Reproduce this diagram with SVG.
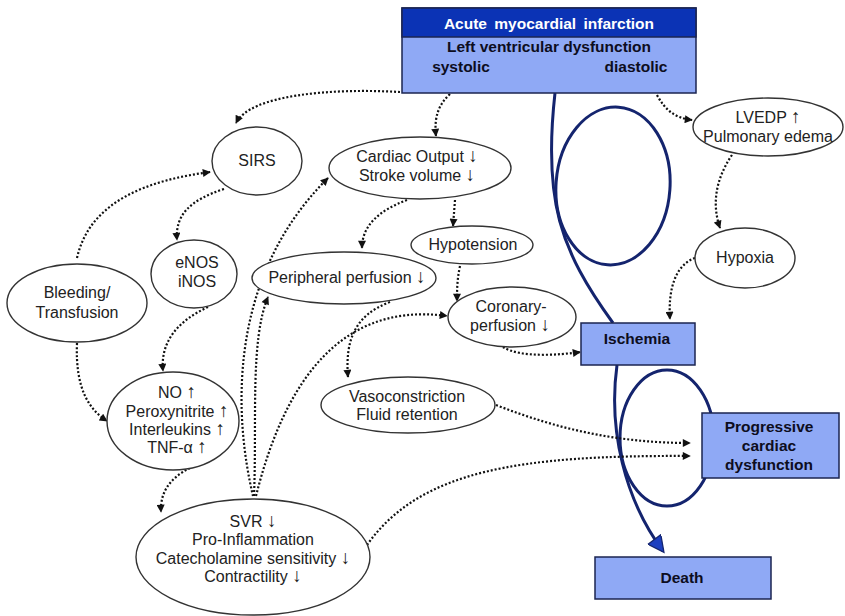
<svg xmlns="http://www.w3.org/2000/svg" width="845" height="616" viewBox="0 0 845 616">
<defs>
<style>
.e{fill:#fff;stroke:#333;stroke-width:1.4}
.t{font-family:"Liberation Sans",Arial,sans-serif;font-size:16px;fill:#222;text-anchor:middle}
.a{font-size:19px}
.b{fill:#8fa9f5;stroke:#1b2550;stroke-width:1.5}
.bt{font-family:"Liberation Sans",Arial,sans-serif;font-size:15.5px;font-weight:bold;fill:#0d0d20;text-anchor:middle}
.d{fill:none;stroke:#111;stroke-width:2.2;stroke-dasharray:2 2;marker-end:url(#ah)}
.bl{fill:none;stroke:#14246e;stroke-width:3}
</style>
<marker id="ah" viewBox="0 0 10 10" refX="9" refY="5" markerWidth="9" markerHeight="8" markerUnits="userSpaceOnUse" orient="auto"><path d="M0,0 L10,5 L0,10 z" fill="#111"/></marker>
<marker id="bah" viewBox="0 0 10 10" refX="9" refY="5" markerWidth="20" markerHeight="16" markerUnits="userSpaceOnUse" orient="auto"><path d="M0,0 L10,5 L0,10 z" fill="#1d3fc0" stroke="#14246e" stroke-width="0.8"/></marker>
</defs>
<rect width="845" height="616" fill="#fff"/>
<g id="connectors">
<path class="bl" d="M555,93 C543,200 560,250 613,323"/>
<ellipse class="bl" cx="613" cy="186" rx="57" ry="79" transform="rotate(4 613 186)"/>
<ellipse class="bl" cx="667" cy="438" rx="47" ry="68"/>
<path class="bl" d="M617,365 C608,430 625,500 663,551" marker-end="url(#bah)"/>
<path class="d" d="M400,92 C330,88 250,95 236,123"/>
<path class="d" d="M450,94 C438,105 434,118 436,136"/>
<path class="d" d="M657,95 C665,110 675,118 692,120"/>
<path class="d" d="M732,155 C715,180 712,205 720,228"/>
<path class="d" d="M695,258 C675,265 668,290 670,319"/>
<path class="d" d="M77,258 C90,200 150,180 210,172"/>
<path class="d" d="M224,189 C190,200 175,215 177,240"/>
<path class="d" d="M208,307 C180,320 160,340 163,371"/>
<path class="d" d="M77,343 C75,390 90,410 107,421"/>
<path class="d" d="M190,468 C170,478 160,492 161,512"/>
<path class="d" d="M253,496 C235,420 225,280 328,178"/>
<path class="d" d="M254,496 C257,420 250,340 268,297"/>
<path class="d" d="M256,496 C280,400 330,300 447,316"/>
<path class="d" d="M407,200 C380,210 362,225 362,248"/>
<path class="d" d="M455,200 L453,226"/>
<path class="d" d="M460,266 C457,280 457,290 457,301"/>
<path class="d" d="M390,302 C355,315 345,340 348,377"/>
<path class="d" d="M503,347 C520,358 560,355 580,352"/>
<path class="d" d="M496,405 C560,430 620,443 690,443"/>
<path class="d" d="M367,545 C420,470 520,455 690,456"/>
</g>
<g id="ami">
<rect x="402" y="8" width="294" height="85" fill="#8fa9f5" stroke="#1b2550" stroke-width="1.5"/>
<rect x="402" y="8" width="294" height="29" fill="#0b33b5" stroke="#1b2550" stroke-width="1.5"/>
<text class="bt" x="549" y="29" style="fill:#fff;word-spacing:3px">Acute myocardial infarction</text>
<text class="bt" x="549" y="52">Left ventricular dysfunction</text>
<text class="bt" x="461" y="72">systolic</text>
<text class="bt" x="636" y="72">diastolic</text>
</g>
<g id="sirs"><ellipse class="e" cx="257" cy="161" rx="45" ry="34"/><text class="t" x="257" y="166">SIRS</text></g>
<g id="co"><ellipse class="e" cx="420" cy="168" rx="91" ry="31"/><text class="t" x="417" y="162">Cardiac Output <tspan class="a">↓</tspan></text><text class="t" x="417" y="181">Stroke volume <tspan class="a">↓</tspan></text></g>
<g id="hypotension"><ellipse class="e" cx="472" cy="245" rx="61" ry="19"/><text class="t" x="473" y="250">Hypotension</text></g>
<g id="pp"><ellipse class="e" cx="344" cy="278" rx="92" ry="26"/><text class="t" x="347" y="283">Peripheral perfusion <tspan class="a">↓</tspan></text></g>
<g id="cp"><ellipse class="e" cx="512" cy="317" rx="64" ry="30"/><text class="t" x="511" y="312">Coronary-</text><text class="t" x="510" y="331">perfusion <tspan class="a">↓</tspan></text></g>
<g id="vaso"><ellipse class="e" cx="408" cy="405" rx="87" ry="28"/><text class="t" x="407" y="402">Vasoconstriction</text><text class="t" x="407" y="420">Fluid retention</text></g>
<g id="bleeding"><ellipse class="e" cx="77" cy="303" rx="70" ry="39"/><text class="t" x="77" y="298">Bleeding/</text><text class="t" x="77" y="318">Transfusion</text></g>
<g id="enos"><ellipse class="e" cx="194" cy="274" rx="43" ry="34"/><text class="t" x="197" y="268">eNOS</text><text class="t" x="197" y="287">iNOS</text></g>
<g id="no"><ellipse class="e" cx="173" cy="421" rx="66" ry="49"/><text class="t" x="177" y="398">NO <tspan class="a">↑</tspan></text><text class="t" x="177" y="417">Peroxynitrite <tspan class="a">↑</tspan></text><text class="t" x="177" y="435">Interleukins <tspan class="a">↑</tspan></text><text class="t" x="177" y="453">TNF-α <tspan class="a">↑</tspan></text></g>
<g id="svr"><ellipse class="e" cx="253" cy="557" rx="117" ry="58"/><text class="t" x="253" y="527">SVR <tspan class="a">↓</tspan></text><text class="t" x="253" y="545">Pro-Inflammation</text><text class="t" x="253" y="564">Catecholamine sensitivity <tspan class="a">↓</tspan></text><text class="t" x="253" y="582">Contractility <tspan class="a">↓</tspan></text></g>
<g id="lvedp"><ellipse class="e" cx="768" cy="127" rx="75" ry="29"/><text class="t" x="768" y="123">LVEDP <tspan class="a">↑</tspan></text><text class="t" x="768" y="142">Pulmonary edema</text></g>
<g id="hypoxia"><ellipse class="e" cx="745" cy="258" rx="50" ry="30"/><text class="t" x="745" y="263">Hypoxia</text></g>
<g id="ischemia"><rect class="b" x="581" y="323" width="114" height="42"/><text class="bt" x="637" y="344">Ischemia</text></g>
<g id="progressive"><rect class="b" x="702" y="413" width="137" height="65"/><text class="bt" x="769" y="432">Progressive</text><text class="bt" x="769" y="451">cardiac</text><text class="bt" x="769" y="470">dysfunction</text></g>
<g id="death"><rect class="b" x="595" y="557" width="176" height="42"/><text class="bt" x="682" y="583">Death</text></g>
</svg>
